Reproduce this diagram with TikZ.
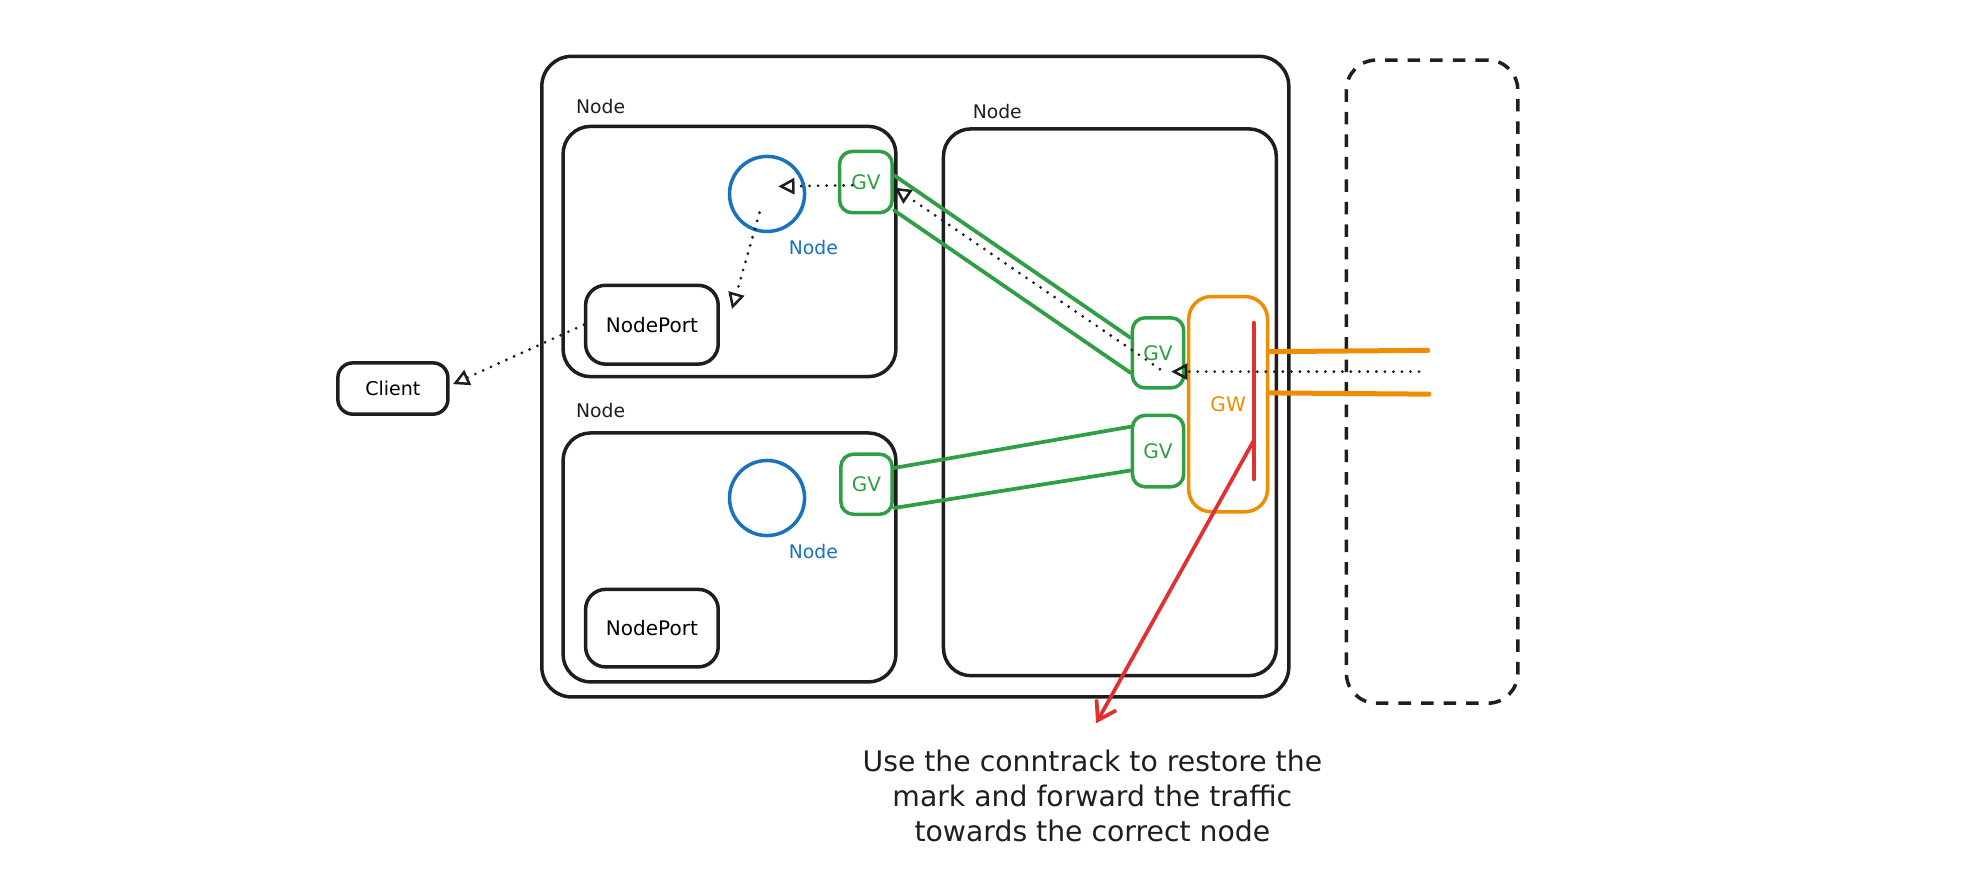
\documentclass[tikz,border=0pt]{standalone}
\usepackage{fontspec}
\setmainfont{DejaVu Sans}
\usetikzlibrary{arrows.meta,calc}
\definecolor{ink}{HTML}{1E1E1E}
\definecolor{exgreen}{HTML}{2F9E44}
\definecolor{exblue}{HTML}{1971C2}
\definecolor{exorange}{HTML}{F08C00}
\definecolor{exred}{HTML}{E03131}
\tikzset{
  box/.style={draw=ink, line width=1.4pt, rounded corners=#1, inner sep=0pt},
  box/.default=9pt,
  gvbox/.style={draw=exgreen, line width=1.4pt, rounded corners=5pt, text=exgreen, font=\fontsize{8}{9}\selectfont, inner sep=0pt},
  lbl/.style={font=\fontsize{7.5}{9}\selectfont, text=ink, inner sep=0pt},
  dotline/.style={draw=ink, line width=1.25pt, line cap=round, dash pattern=on 0pt off 3.4pt},
  otip/.style={-{Triangle[open, length=6.5pt, width=6.5pt, line width=1pt, sep=0pt]}},
  glink/.style={draw=exgreen, line width=1.5pt, line cap=round},
  olink/.style={draw=exorange, line width=2pt, line cap=round},
}
\begin{document}
\begin{tikzpicture}[x=0.5pt,y=-0.5pt]
\useasboundingbox (0,0) rectangle (1568,713);
% containers
\node[box=12pt, minimum width=298.5pt, minimum height=256pt] (cluster) at (731.5,301) {};
\node[box=12pt, dashed, dash pattern=on 5pt off 4pt, minimum width=68.5pt, minimum height=257pt] (ext) at (1144.5,305) {};
\node[box=11pt, minimum width=133pt, minimum height=100pt] (ntl) at (583,201) {};
\node[box=11pt, minimum width=133pt, minimum height=99.5pt] (nbl) at (583,445.5) {};
\node[box=11pt, minimum width=133pt, minimum height=218.5pt] (nr) at (887,321.5) {};
\node[lbl, anchor=west] (ltl) at (460,85) {Node};
\node[lbl, anchor=west] (lbl2) at (460,328) {Node};
\node[lbl, anchor=west] (lr) at (777,89) {Node};
% pods
\node[circle, draw=exblue, line width=1.4pt, minimum size=30pt, inner sep=0pt] (ptl) at (613,155) {};
\node[circle, draw=exblue, line width=1.4pt, minimum size=30pt, inner sep=0pt] (pbl) at (613,398) {};
\node[lbl, text=exblue, anchor=west] (ptll) at (630,198) {Node};
\node[lbl, text=exblue, anchor=west] (pbll) at (630,441) {Node};
% nodeports
\node[box=8pt, minimum width=53pt, minimum height=31.5pt, font=\fontsize{8}{9}\selectfont] (nptl) at (521,259.5) {NodePort};
\node[box=8pt, minimum width=53pt, minimum height=31pt, font=\fontsize{8}{9}\selectfont] (npbl) at (521,502) {NodePort};
\node[box=6pt, minimum width=44pt, minimum height=20.5pt, font=\fontsize{7.6}{9}\selectfont] (client) at (314,310.5) {Client};
% GV boxes
\node[gvbox, minimum width=21pt, minimum height=24.5pt] (gvtl) at (692,145.5) {GV};
\node[gvbox, minimum width=20.5pt, minimum height=24pt] (gvbl) at (692.5,387) {GV};
\node[gvbox, minimum width=20.5pt, minimum height=28pt] (gvrt) at (925.5,282) {GV};
\node[gvbox, minimum width=20.5pt, minimum height=28.5pt] (gvrb) at (925.5,360.5) {GV};
% GW
\node[draw=exorange, line width=1.4pt, rounded corners=9pt, minimum width=31.5pt, minimum height=86pt, text=exorange, font=\fontsize{8}{9}\selectfont, inner sep=0pt] (gw) at (981.5,323) {GW};
% green tunnels
\draw[glink] ([yshift=2.75pt]gvtl.east) -- ([yshift=6pt]gvrt.west);
\draw[glink] ([yshift=-11.25pt]gvtl.east) -- ([yshift=-8pt]gvrt.west);
\draw[glink] ([yshift=6.5pt]gvbl.east) -- ([yshift=9.75pt]gvrb.west);
\draw[glink] ([yshift=-9.5pt]gvbl.east) -- ([yshift=-7.75pt]gvrb.west);
% orange external lines
\coordinate (o1) at (1141,280);
\coordinate (o2) at (1142,315);
\draw[olink] ([yshift=21pt]gw.east) -- (o1);
\draw[olink] ([yshift=4.5pt]gw.east) -- (o2);
% red conntrack
\coordinate (r1) at (1002,258);
\coordinate (r2) at (1002,383);
\coordinate (r3) at (1002,352);
\coordinate (r4) at (876,578);
\draw[exred, line width=1.6pt, line cap=round] (r1) -- (r2);
\draw[exred, line width=1.5pt, line cap=round, -{Straight Barb[length=7pt, width=9pt, line width=1.5pt]}] (r3) -- (r4);
% dotted traffic
\coordinate (d0) at (1134,297);
\coordinate (d1) at (936,297);
\coordinate (d2) at (927,295);
\coordinate (d3) at (715,150);
\coordinate (d4) at (681,148);
\coordinate (d5) at (622,149);
\coordinate (d6) at (607,170);
\coordinate (d7) at (585,247);
\coordinate (d8) at (362,307);
\draw[dotline, otip] (d0) -- (d1);
\draw[dotline, otip] (d2) -- (d3);
\draw[dotline, otip] (d4) -- (d5);
\draw[dotline, otip] (d6) -- (d7);
\draw[dotline, otip] (nptl.west) -- (d8);
% caption
\node[align=center, text=ink, font=\fontsize{11.3}{14}\selectfont] (cap) at (873,636) {Use the conntrack to restore the\\mark and forward the traffic\\towards the correct node};
\end{tikzpicture}
\end{document}
